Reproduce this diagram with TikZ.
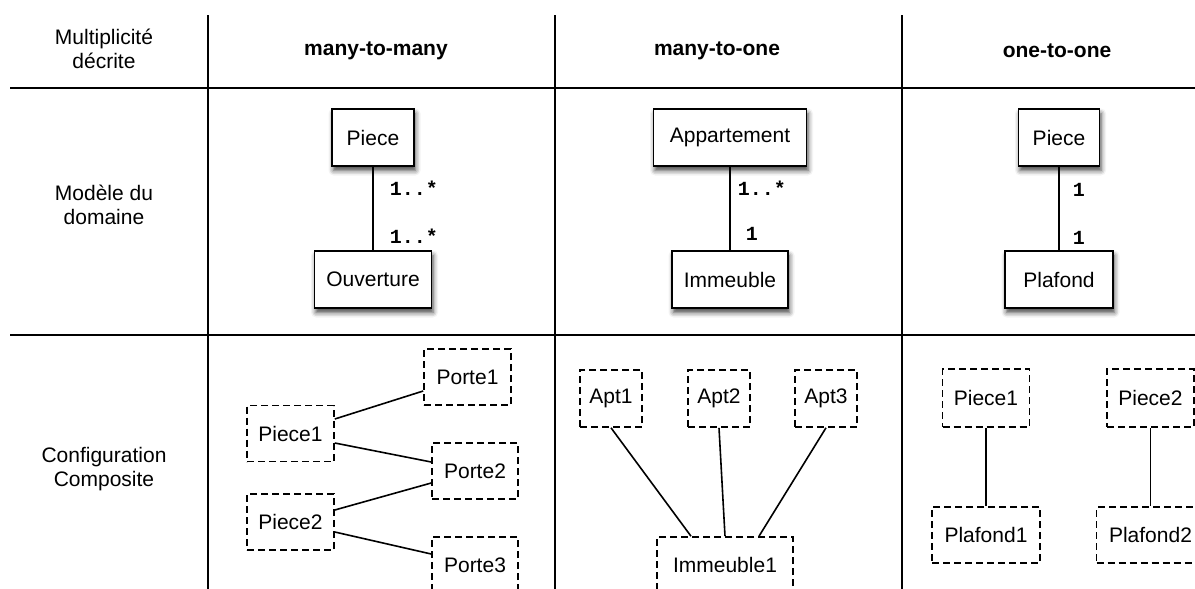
\documentclass[tikz,border=0pt]{standalone}
\usepackage{fontspec}
\setmainfont{Liberation Sans}
\setmonofont{Liberation Mono}
\usetikzlibrary{shadows.blur}
\begin{document}
\begin{tikzpicture}[x=1pt,y=-1pt,
  txt/.style={font=\fontsize{21}{24.5}\selectfont, align=center, inner sep=0pt},
  hdr/.style={font=\fontsize{21}{24.5}\selectfont\bfseries, inner sep=0pt},
  cls/.style={draw, line width=1.9pt, fill=white, inner sep=0pt,
    font=\fontsize{21}{24.5}\selectfont, minimum height=57pt,
    blur shadow={shadow xshift=1.5pt, shadow yshift=-4.5pt, shadow blur radius=5pt, shadow opacity=75}},
  inst/.style={draw, line width=1.6pt, dash pattern=on 7pt off 4pt, inner sep=0pt,
    font=\fontsize{21}{24.5}\selectfont, minimum height=56pt},
  mult/.style={font=\fontsize{20}{24}\selectfont\ttfamily\bfseries, inner sep=0pt, anchor=west},
  gridline/.style={line width=2pt},
  link/.style={line width=1.6pt}]
\useasboundingbox (0,0) rectangle (1195,589);

% table grid
\coordinate (h1l) at (10,88);   \coordinate (h1r) at (1195,88);
\coordinate (h2l) at (10,335);  \coordinate (h2r) at (1195,335);
\coordinate (v1t) at (208,15);  \coordinate (v1b) at (208,589);
\coordinate (v2t) at (555,15);  \coordinate (v2b) at (555,589);
\coordinate (v3t) at (902,15);  \coordinate (v3b) at (902,589);
\draw[gridline] (h1l) -- (h1r);
\draw[gridline] (h2l) -- (h2r);
\draw[gridline] (v1t) -- (v1b);
\draw[gridline] (v2t) -- (v2b);
\draw[gridline] (v3t) -- (v3b);

% headers
\node[txt] (lab1) at (104,49) {Multiplicité\\décrite};
\node[hdr] (hmm) at (376,51) {many-to-many};
\node[hdr] (hmo) at (717,51) {many-to-one};
\node[hdr] (hoo) at (1057,51) {one-to-one};
\node[txt] (lab2) at (104,205) {Modèle du\\domaine};
\node[txt] (lab3) at (104,469) {Configuration\\Composite};

% domain model
\node[cls, minimum width=82pt] (dPiece) at (373,137.5) {Piece};
\node[cls, minimum width=117pt] (dOuv) at (373,279.5) {Ouverture};
\draw[link] (dPiece) -- (dOuv)
  node[mult, pos=0.26, xshift=16pt] (m1) {1..*}
  node[mult, pos=0.835, xshift=16pt] (m2) {1..*};

\node[cls, minimum width=153pt] (dApp) at (730,137.5) {Appartement};
\node[cls, minimum width=116pt] (dImm) at (730,279.5) {Immeuble};
\draw[link] (dApp) -- (dImm)
  node[mult, pos=0.26, xshift=7pt] (m3) {1..*}
  node[mult, pos=0.81, xshift=15pt] (m4) {1};

\node[cls, minimum width=81pt] (dPiece3) at (1059,137.5) {Piece};
\node[cls, minimum width=108pt] (dPlaf) at (1059,279.5) {Plafond};
\draw[link] (dPiece3) -- (dPlaf)
  node[mult, pos=0.28, xshift=13pt] (m5) {1}
  node[mult, pos=0.85, xshift=13pt] (m6) {1};

% composite configurations: many-to-many
\node[inst, minimum width=87pt] (porte1) at (467.5,377) {Porte1};
\node[inst, minimum width=87pt] (piece1a) at (290.5,433.5) {Piece1};
\node[inst, minimum width=86pt] (porte2) at (475,471) {Porte2};
\node[inst, minimum width=87pt] (piece2a) at (290.5,522) {Piece2};
\node[inst, minimum width=86pt] (porte3) at (475,565) {Porte3};
\draw[link] ([yshift=14.5pt]piece1a.east) -- ([yshift=-14pt]porte1.west);
\draw[link] ([yshift=-9.5pt]piece1a.east) -- ([yshift=9pt]porte2.west);
\draw[link] ([yshift=12pt]piece2a.east) -- ([yshift=-12pt]porte2.west);
\draw[link] ([yshift=-10pt]piece2a.east) -- ([yshift=11pt]porte3.west);

% many-to-one
\node[inst, minimum width=62pt, minimum height=57pt] (apt1) at (611,398.5) {Apt1};
\node[inst, minimum width=62pt, minimum height=57pt] (apt2) at (719,398.5) {Apt2};
\node[inst, minimum width=62pt, minimum height=57pt] (apt3) at (826,398.5) {Apt3};
\node[inst, minimum width=136pt] (imm1) at (725,565) {Immeuble1};
\draw[link] (apt1.south) -- ([xshift=-34pt]imm1.north);
\draw[link] (apt2.south) -- (imm1.north);
\draw[link] (apt3.south) -- ([xshift=34pt]imm1.north);

% one-to-one
\node[inst, minimum width=87pt, minimum height=58pt] (piece1c) at (986,398) {Piece1};
\node[inst, minimum width=87pt, minimum height=58pt] (piece2c) at (1150.5,398) {Piece2};
\node[inst, minimum width=108pt] (plaf1) at (986,535) {Plafond1};
\node[inst, minimum width=108pt] (plaf2) at (1150.5,535) {Plafond2};
\draw[link] (piece1c) -- (plaf1);
\draw[link] (piece2c) -- (plaf2);
\end{tikzpicture}
\end{document}
